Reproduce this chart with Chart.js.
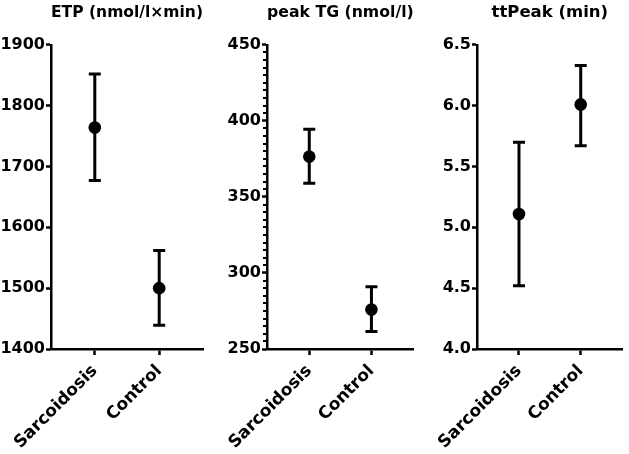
<!DOCTYPE html>
<html><head><meta charset="utf-8">
<script src="https://cdn.jsdelivr.net/npm/chart.js@4.4.1/dist/chart.umd.min.js"></script>
<style>
html,body{margin:0;padding:0;background:#fff;}
#wrap{position:relative;width:629px;height:454px;overflow:hidden;background:#fff;}
canvas{position:absolute;top:0;}
</style></head><body>
<div id="wrap">
<canvas id="c1" width="210" height="454" style="left:0px"></canvas>
<canvas id="c2" width="210" height="454" style="left:210px"></canvas>
<canvas id="c3" width="209" height="454" style="left:420px"></canvas>
</div>
<script>
// ---- data ----
const categories = ['Sarcoidosis', 'Control'];

const etpTitle = 'ETP (nmol/l×min)';
const etpMean = [1764, 1500];
const etpLow  = [1677, 1439];
const etpHigh = [1852, 1562];
const etpTicks = [1400, 1500, 1600, 1700, 1800, 1900];

const peakTitle = 'peak TG (nmol/l)';
const peakMean = [376.5, 276];
const peakLow  = [359, 261.5];
const peakHigh = [394.5, 291];
const peakTicks = [250, 300, 350, 400, 450];

const ttTitle = 'ttPeak (min)';
const ttMean = [5.11, 6.01];
const ttLow  = [4.52, 5.67];
const ttHigh = [5.70, 6.33];
const ttTicks = [4.0, 4.5, 5.0, 5.5, 6.0, 6.5];

// ---- drawing ----
const FONT = "'DejaVu Sans', sans-serif";
const errPlugin = {
  id: 'errbars',
  afterDatasetsDraw(chart, args, opts) {
    const ctx = chart.ctx, x = chart.scales.x, y = chart.scales.y;
    ctx.save();
    ctx.strokeStyle = '#000';
    ctx.lineWidth = 3;
    opts.low.forEach((lo, i) => {
      const px = x.getPixelForValue(i);
      const yl = y.getPixelForValue(lo), yh = y.getPixelForValue(opts.high[i]);
      ctx.beginPath();
      ctx.moveTo(px, yl); ctx.lineTo(px, yh);
      ctx.moveTo(px - 6, yl); ctx.lineTo(px + 6, yl);
      ctx.moveTo(px - 6, yh); ctx.lineTo(px + 6, yh);
      ctx.stroke();
    });
    ctx.restore();
  }
};
const minorPlugin = {
  id: 'minorticks',
  afterDraw(chart, args, opts) {
    if (!opts.step) return;
    const ctx = chart.ctx, y = chart.scales.y, left = chart.chartArea.left;
    ctx.save();
    ctx.strokeStyle = '#000';
    ctx.lineWidth = 2;
    for (let v = y.min; v <= y.max + 1e-9; v += opts.step) {
      if (opts.major.some(m => Math.abs(m - v) < 1e-6)) continue;
      const py = Math.round(y.getPixelForValue(v));
      ctx.beginPath();
      ctx.moveTo(left - 4, py); ctx.lineTo(left, py);
      ctx.stroke();
    }
    ctx.restore();
  }
};

function panel(id, title, mean, low, high, ticks, decimals, axisW, padRight, minorStep) {
  new Chart(document.getElementById(id), {
    type: 'scatter',
    data: {
      datasets: [{
        data: mean.map((m, i) => ({ x: i, y: m })),
        pointRadius: 6.3,
        pointHoverRadius: 6.3,
        pointBackgroundColor: '#000',
        pointBorderWidth: 0,
        showLine: false,
        clip: false
      }]
    },
    options: {
      responsive: false,
      animation: false,
      events: [],
      layout: { padding: { left: 0, right: padRight, top: 0, bottom: 0 } },
      plugins: {
        legend: { display: false },
        tooltip: { enabled: false },
        title: {
          display: true, text: title, fullSize: false, color: '#000',
          font: { family: FONT, size: 16.5, weight: 'bold' },
          padding: { top: 3, bottom: 22 }
        },
        errbars: { low: low, high: high },
        minorticks: { step: minorStep, major: ticks }
      },
      scales: {
        x: {
          type: 'linear', min: -0.68, max: 1.68,
          afterBuildTicks: s => { s.ticks = categories.map((c, i) => ({ value: i })); },
          afterFit: s => { s.height = 105; s.paddingLeft = 0; s.paddingRight = 0; },
          ticks: {
            callback: v => categories[v] ?? '',
            minRotation: 45, maxRotation: 45, autoSkip: false,
            color: '#000', padding: 6,
            font: { family: FONT, size: 17, weight: 'bold' }
          },
          grid: { drawOnChartArea: false, drawTicks: true, tickLength: 6, tickWidth: 2.5, tickColor: '#000' },
          border: { display: true, color: '#000', width: 2.5 }
        },
        y: {
          type: 'linear', min: ticks[0], max: ticks[ticks.length - 1],
          afterBuildTicks: s => { s.ticks = ticks.map(v => ({ value: v })); },
          afterFit: s => { s.width = axisW; },
          ticks: {
            callback: v => Number(v).toFixed(decimals),
            autoSkip: false, color: '#000', padding: 1,
            font: { family: FONT, size: 16, weight: 'bold' }
          },
          grid: { drawOnChartArea: false, drawTicks: true, tickLength: 5, tickWidth: 2.5, tickColor: '#000' },
          border: { display: true, color: '#000', width: 2.5 }
        }
      }
    },
    plugins: [errPlugin, minorPlugin]
  });
}

panel('c1', etpTitle, etpMean, etpLow, etpHigh, etpTicks, 0, 51, 7, 0);
panel('c2', peakTitle, peakMean, peakLow, peakHigh, peakTicks, 0, 57, 0, 5);
panel('c3', ttTitle, ttMean, ttLow, ttHigh, ttTicks, 1, 57, 1, 0);
</script>
</body></html>
